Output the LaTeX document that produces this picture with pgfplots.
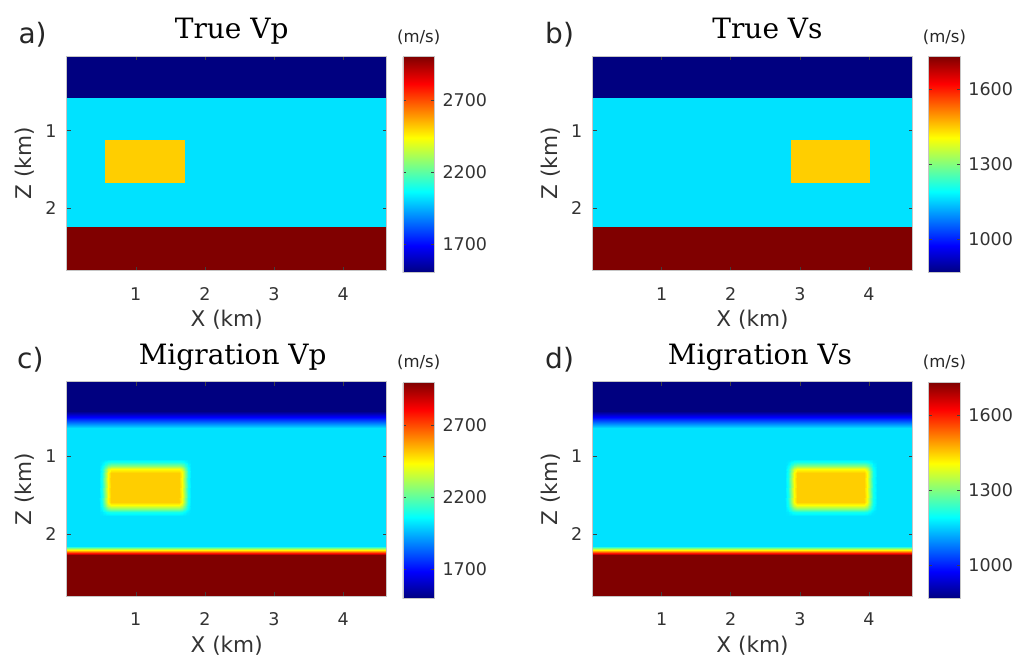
\documentclass[border=0pt]{standalone}
\usepackage{pgfplots}
\usepackage{pgfplotstable}
\pgfplotsset{compat=1.18}
\usepackage{fontspec}
\setmainfont{DejaVu Sans}
\newfontfamily\serifti{DejaVu Serif}
\newcommand\ticksz{\fontsize{17.5bp}{20bp}\selectfont}
\newcommand\labsz{\fontsize{21.6bp}{24bp}\selectfont}
\newcommand\titsz{\serifti\fontsize{28bp}{32bp}\selectfont}
\newcommand\plabsz{\fontsize{28bp}{32bp}\selectfont}
\newcommand\unitsz{\fontsize{16.5bp}{18bp}\selectfont}

% True Vp (x varies fastest, 6 columns)
\pgfplotstableread{
x z v
0 0.04 1500
0.556 0.04 1500
0.557 0.04 1500
1.71 0.04 1500
1.711 0.04 1500
4.63 0.04 1500
0 0.58 1500
0.556 0.58 1500
0.557 0.58 1500
1.71 0.58 1500
1.711 0.58 1500
4.63 0.58 1500
0 0.581 2020
0.556 0.581 2020
0.557 0.581 2020
1.71 0.581 2020
1.711 0.581 2020
4.63 0.581 2020
0 1.12 2020
0.556 1.12 2020
0.557 1.12 2020
1.71 1.12 2020
1.711 1.12 2020
4.63 1.12 2020
0 1.121 2020
0.556 1.121 2020
0.557 1.121 2510
1.71 1.121 2510
1.711 1.121 2020
4.63 1.121 2020
0 1.67 2020
0.556 1.67 2020
0.557 1.67 2510
1.71 1.67 2510
1.711 1.67 2020
4.63 1.67 2020
0 1.671 2020
0.556 1.671 2020
0.557 1.671 2020
1.71 1.671 2020
1.711 1.671 2020
4.63 1.671 2020
0 2.235 2020
0.556 2.235 2020
0.557 2.235 2020
1.71 2.235 2020
1.711 2.235 2020
4.63 2.235 2020
0 2.236 3000
0.556 2.236 3000
0.557 2.236 3000
1.71 2.236 3000
1.711 2.236 3000
4.63 2.236 3000
0 2.8 3000
0.556 2.8 3000
0.557 2.8 3000
1.71 2.8 3000
1.711 2.8 3000
4.63 2.8 3000
}\tvp

% True Vs
\pgfplotstableread{
x z v
0 0.04 866
2.87 0.04 866
2.871 0.04 866
4.02 0.04 866
4.021 0.04 866
4.63 0.04 866
0 0.58 866
2.87 0.58 866
2.871 0.58 866
4.02 0.58 866
4.021 0.58 866
4.63 0.58 866
0 0.581 1166
2.87 0.581 1166
2.871 0.581 1166
4.02 0.581 1166
4.021 0.581 1166
4.63 0.581 1166
0 1.12 1166
2.87 1.12 1166
2.871 1.12 1166
4.02 1.12 1166
4.021 1.12 1166
4.63 1.12 1166
0 1.121 1166
2.87 1.121 1166
2.871 1.121 1449
4.02 1.121 1449
4.021 1.121 1166
4.63 1.121 1166
0 1.67 1166
2.87 1.67 1166
2.871 1.67 1449
4.02 1.67 1449
4.021 1.67 1166
4.63 1.67 1166
0 1.671 1166
2.87 1.671 1166
2.871 1.671 1166
4.02 1.671 1166
4.021 1.671 1166
4.63 1.671 1166
0 2.235 1166
2.87 2.235 1166
2.871 2.235 1166
4.02 2.235 1166
4.021 2.235 1166
4.63 2.235 1166
0 2.236 1732
2.87 2.236 1732
2.871 2.236 1732
4.02 2.236 1732
4.021 2.236 1732
4.63 2.236 1732
0 2.8 1732
2.87 2.8 1732
2.871 2.8 1732
4.02 2.8 1732
4.021 2.8 1732
4.63 2.8 1732
}\tvs

% Migration Vp (smoothed), 12 columns per row
% columns x: 0 0.466 0.511 0.556 0.601 0.646 1.62 1.665 1.71 1.755 1.80 4.63
\pgfplotstableread{
x z v
0 0.04 1500
0.466 0.04 1500
0.511 0.04 1500
0.556 0.04 1500
0.601 0.04 1500
0.646 0.04 1500
1.62 0.04 1500
1.665 0.04 1500
1.71 0.04 1500
1.755 0.04 1500
1.80 0.04 1500
4.63 0.04 1500
0 0.42 1500
0.466 0.42 1500
0.511 0.42 1500
0.556 0.42 1500
0.601 0.42 1500
0.646 0.42 1500
1.62 0.42 1500
1.665 0.42 1500
1.71 0.42 1500
1.755 0.42 1500
1.80 0.42 1500
4.63 0.42 1500
0 0.63 2020
0.466 0.63 2020
0.511 0.63 2020
0.556 0.63 2020
0.601 0.63 2020
0.646 0.63 2020
1.62 0.63 2020
1.665 0.63 2020
1.71 0.63 2020
1.755 0.63 2020
1.80 0.63 2020
4.63 0.63 2020
0 1.03 2020
0.466 1.03 2020
0.511 1.03 2020
0.556 1.03 2020
0.601 1.03 2020
0.646 1.03 2020
1.62 1.03 2020
1.665 1.03 2020
1.71 1.03 2020
1.755 1.03 2020
1.80 1.03 2020
4.63 1.03 2020
0 1.075 2020
0.466 1.075 2020
0.511 1.075 2031
0.556 1.075 2057
0.601 1.075 2082
0.646 1.075 2094
1.62 1.075 2094
1.665 1.075 2082
1.71 1.075 2057
1.755 1.075 2031
1.80 1.075 2020
4.63 1.075 2020
0 1.12 2020
0.466 1.12 2020
0.511 1.12 2057
0.556 1.12 2143
0.601 1.12 2228
0.646 1.12 2265
1.62 1.12 2265
1.665 1.12 2228
1.71 1.12 2143
1.755 1.12 2057
1.80 1.12 2020
4.63 1.12 2020
0 1.165 2020
0.466 1.165 2020
0.511 1.165 2082
0.556 1.165 2228
0.601 1.165 2374
0.646 1.165 2437
1.62 1.165 2437
1.665 1.165 2374
1.71 1.165 2228
1.755 1.165 2082
1.80 1.165 2020
4.63 1.165 2020
0 1.21 2020
0.466 1.21 2020
0.511 1.21 2094
0.556 1.21 2265
0.601 1.21 2437
0.646 1.21 2510
1.62 1.21 2510
1.665 1.21 2437
1.71 1.21 2265
1.755 1.21 2094
1.80 1.21 2020
4.63 1.21 2020
0 1.58 2020
0.466 1.58 2020
0.511 1.58 2094
0.556 1.58 2265
0.601 1.58 2437
0.646 1.58 2510
1.62 1.58 2510
1.665 1.58 2437
1.71 1.58 2265
1.755 1.58 2094
1.80 1.58 2020
4.63 1.58 2020
0 1.625 2020
0.466 1.625 2020
0.511 1.625 2082
0.556 1.625 2228
0.601 1.625 2374
0.646 1.625 2437
1.62 1.625 2437
1.665 1.625 2374
1.71 1.625 2228
1.755 1.625 2082
1.80 1.625 2020
4.63 1.625 2020
0 1.67 2020
0.466 1.67 2020
0.511 1.67 2057
0.556 1.67 2143
0.601 1.67 2228
0.646 1.67 2265
1.62 1.67 2265
1.665 1.67 2228
1.71 1.67 2143
1.755 1.67 2057
1.80 1.67 2020
4.63 1.67 2020
0 1.715 2020
0.466 1.715 2020
0.511 1.715 2031
0.556 1.715 2057
0.601 1.715 2082
0.646 1.715 2094
1.62 1.715 2094
1.665 1.715 2082
1.71 1.715 2057
1.755 1.715 2031
1.80 1.715 2020
4.63 1.715 2020
0 1.76 2020
0.466 1.76 2020
0.511 1.76 2020
0.556 1.76 2020
0.601 1.76 2020
0.646 1.76 2020
1.62 1.76 2020
1.665 1.76 2020
1.71 1.76 2020
1.755 1.76 2020
1.80 1.76 2020
4.63 1.76 2020
0 2.15 2020
0.466 2.15 2020
0.511 2.15 2020
0.556 2.15 2020
0.601 2.15 2020
0.646 2.15 2020
1.62 2.15 2020
1.665 2.15 2020
1.71 2.15 2020
1.755 2.15 2020
1.80 2.15 2020
4.63 2.15 2020
0 2.27 3000
0.466 2.27 3000
0.511 2.27 3000
0.556 2.27 3000
0.601 2.27 3000
0.646 2.27 3000
1.62 2.27 3000
1.665 2.27 3000
1.71 2.27 3000
1.755 2.27 3000
1.80 2.27 3000
4.63 2.27 3000
0 2.8 3000
0.466 2.8 3000
0.511 2.8 3000
0.556 2.8 3000
0.601 2.8 3000
0.646 2.8 3000
1.62 2.8 3000
1.665 2.8 3000
1.71 2.8 3000
1.755 2.8 3000
1.80 2.8 3000
4.63 2.8 3000
}\mvp

% Migration Vs (smoothed), 12 columns per row
% columns x: 0 2.78 2.825 2.87 2.915 2.96 3.93 3.975 4.02 4.065 4.11 4.63
\pgfplotstableread{
x z v
0 0.04 866
2.78 0.04 866
2.825 0.04 866
2.87 0.04 866
2.915 0.04 866
2.96 0.04 866
3.93 0.04 866
3.975 0.04 866
4.02 0.04 866
4.065 0.04 866
4.11 0.04 866
4.63 0.04 866
0 0.42 866
2.78 0.42 866
2.825 0.42 866
2.87 0.42 866
2.915 0.42 866
2.96 0.42 866
3.93 0.42 866
3.975 0.42 866
4.02 0.42 866
4.065 0.42 866
4.11 0.42 866
4.63 0.42 866
0 0.63 1166
2.78 0.63 1166
2.825 0.63 1166
2.87 0.63 1166
2.915 0.63 1166
2.96 0.63 1166
3.93 0.63 1166
3.975 0.63 1166
4.02 0.63 1166
4.065 0.63 1166
4.11 0.63 1166
4.63 0.63 1166
0 1.03 1166
2.78 1.03 1166
2.825 1.03 1166
2.87 1.03 1166
2.915 1.03 1166
2.96 1.03 1166
3.93 1.03 1166
3.975 1.03 1166
4.02 1.03 1166
4.065 1.03 1166
4.11 1.03 1166
4.63 1.03 1166
0 1.075 1166
2.78 1.075 1166
2.825 1.075 1172
2.87 1.075 1187
2.915 1.075 1202
2.96 1.075 1208
3.93 1.075 1208
3.975 1.075 1202
4.02 1.075 1187
4.065 1.075 1172
4.11 1.075 1166
4.63 1.075 1166
0 1.12 1166
2.78 1.12 1166
2.825 1.12 1187
2.87 1.12 1237
2.915 1.12 1286
2.96 1.12 1307
3.93 1.12 1307
3.975 1.12 1286
4.02 1.12 1237
4.065 1.12 1187
4.11 1.12 1166
4.63 1.12 1166
0 1.165 1166
2.78 1.165 1166
2.825 1.165 1202
2.87 1.165 1286
2.915 1.165 1370
2.96 1.165 1406
3.93 1.165 1406
3.975 1.165 1370
4.02 1.165 1286
4.065 1.165 1202
4.11 1.165 1166
4.63 1.165 1166
0 1.21 1166
2.78 1.21 1166
2.825 1.21 1208
2.87 1.21 1307
2.915 1.21 1406
2.96 1.21 1449
3.93 1.21 1449
3.975 1.21 1406
4.02 1.21 1307
4.065 1.21 1208
4.11 1.21 1166
4.63 1.21 1166
0 1.58 1166
2.78 1.58 1166
2.825 1.58 1208
2.87 1.58 1307
2.915 1.58 1406
2.96 1.58 1449
3.93 1.58 1449
3.975 1.58 1406
4.02 1.58 1307
4.065 1.58 1208
4.11 1.58 1166
4.63 1.58 1166
0 1.625 1166
2.78 1.625 1166
2.825 1.625 1202
2.87 1.625 1286
2.915 1.625 1370
2.96 1.625 1406
3.93 1.625 1406
3.975 1.625 1370
4.02 1.625 1286
4.065 1.625 1202
4.11 1.625 1166
4.63 1.625 1166
0 1.67 1166
2.78 1.67 1166
2.825 1.67 1187
2.87 1.67 1237
2.915 1.67 1286
2.96 1.67 1307
3.93 1.67 1307
3.975 1.67 1286
4.02 1.67 1237
4.065 1.67 1187
4.11 1.67 1166
4.63 1.67 1166
0 1.715 1166
2.78 1.715 1166
2.825 1.715 1172
2.87 1.715 1187
2.915 1.715 1202
2.96 1.715 1208
3.93 1.715 1208
3.975 1.715 1202
4.02 1.715 1187
4.065 1.715 1172
4.11 1.715 1166
4.63 1.715 1166
0 1.76 1166
2.78 1.76 1166
2.825 1.76 1166
2.87 1.76 1166
2.915 1.76 1166
2.96 1.76 1166
3.93 1.76 1166
3.975 1.76 1166
4.02 1.76 1166
4.065 1.76 1166
4.11 1.76 1166
4.63 1.76 1166
0 2.15 1166
2.78 2.15 1166
2.825 2.15 1166
2.87 2.15 1166
2.915 2.15 1166
2.96 2.15 1166
3.93 2.15 1166
3.975 2.15 1166
4.02 2.15 1166
4.065 2.15 1166
4.11 2.15 1166
4.63 2.15 1166
0 2.27 1732
2.78 2.27 1732
2.825 2.27 1732
2.87 2.27 1732
2.915 2.27 1732
2.96 2.27 1732
3.93 2.27 1732
3.975 2.27 1732
4.02 2.27 1732
4.065 2.27 1732
4.11 2.27 1732
4.63 2.27 1732
0 2.8 1732
2.78 2.8 1732
2.825 2.8 1732
2.87 2.8 1732
2.915 2.8 1732
2.96 2.8 1732
3.93 2.8 1732
3.975 2.8 1732
4.02 2.8 1732
4.065 2.8 1732
4.11 2.8 1732
4.63 2.8 1732
}\mvs

\pgfplotsset{
  vmodel/.style={
    scale only axis, width=320bp, height=214.7bp,
    xmin=0, xmax=4.63, ymin=0.04, ymax=2.8, y dir=reverse,
    xtick={1,2,3,4}, ytick={1,2},
    tick align=inside, major tick length=4bp,
    axis on top,
    axis line style={draw=gray!45, line width=0.5bp},
    tick style={black!75, line width=0.6bp},
    /pgf/number format/assume math mode=true,
    tick label style={font=\ticksz, text=black!80},
    xticklabel style={anchor=base, inner sep=0pt, yshift=-29.3bp},
    yticklabel style={anchor=east, inner sep=0pt, xshift=-10bp},
    xlabel={X (km)}, ylabel={Z (km)},
    label style={font=\labsz, text=black!80},
    xlabel style={at={(axis description cs:0.5,-0.261)}, anchor=base},
    ylabel style={at={(axis description cs:-0.130,0.5)}, anchor=center},
    title style={font=\titsz, at={(axis description cs:0.5,1)}, anchor=base, yshift=11.5bp},
    colormap/jet, colorbar,
    colorbar/width=31.5bp,
    colorbar style={
      scale only axis, height=216bp, xmin=0, xmax=1,
      at={(parent axis.north east)}, anchor=north west, xshift=7.7bp, yshift=-0.7bp,
      axis line style={draw=gray!45, line width=0.5bp},
      major tick length=3bp, tick style={black!75, line width=0.5bp},
      yticklabel style={font=\ticksz, text=black!80, anchor=west, inner sep=0pt, xshift=8bp,
        /pgf/number format/1000 sep={}, /pgf/number format/assume math mode=true},
      title={(m/s)}, title style={font=\unitsz, text=black!85, at={(0.5,1)}, anchor=base, yshift=8.5bp},
    },
  },
  vpbar/.style={point meta min=1500, point meta max=3000,
    colorbar style={ytick={1700,2200,2700}}},
  vsbar/.style={point meta min=866, point meta max=1732,
    colorbar style={ytick={1000,1300,1600}}},
  field/.style={surf, shader=interp, point meta=\thisrow{v}},
}

\begin{document}
\begin{tikzpicture}
\path[use as bounding box] (-66.7bp,56bp) rectangle (954.3bp,-611bp);

\begin{axis}[vmodel, vpbar, name=A, at={(0bp,0bp)}, anchor=north west,
  title={True Vp}, title style={xshift=5bp}]
\addplot[field, mesh/cols=6] table[x=x, y=z] {\tvp};
\end{axis}
\node[font=\plabsz, text=black!85, anchor=base west] at ([xshift=-51.7bp, yshift=13bp]A.north west) {a)};

\begin{axis}[vmodel, vsbar, name=B, at={(525.8bp,0bp)}, anchor=north west,
  title={True Vs}, title style={xshift=15bp}]
\addplot[field, mesh/cols=6] table[x=x, y=z] {\tvs};
\end{axis}
\node[font=\plabsz, text=black!85, anchor=base west] at ([xshift=-50.8bp, yshift=13bp]B.north west) {b)};

\begin{axis}[vmodel, vpbar, name=C, at={(0bp,-325.7bp)}, anchor=north west,
  title={Migration Vp}, title style={xshift=6bp}]
\addplot[field, mesh/cols=12] table[x=x, y=z] {\mvp};
\end{axis}
\node[font=\plabsz, text=black!85, anchor=base west] at ([xshift=-53bp, yshift=13.5bp]C.north west) {c)};

\begin{axis}[vmodel, vsbar, name=D, at={(525.8bp,-325.7bp)}, anchor=north west,
  title={Migration Vs}, title style={xshift=7.5bp}]
\addplot[field, mesh/cols=12] table[x=x, y=z] {\mvs};
\end{axis}
\node[font=\plabsz, text=black!85, anchor=base west] at ([xshift=-50.8bp, yshift=13.5bp]D.north west) {d)};
\end{tikzpicture}
\end{document}
